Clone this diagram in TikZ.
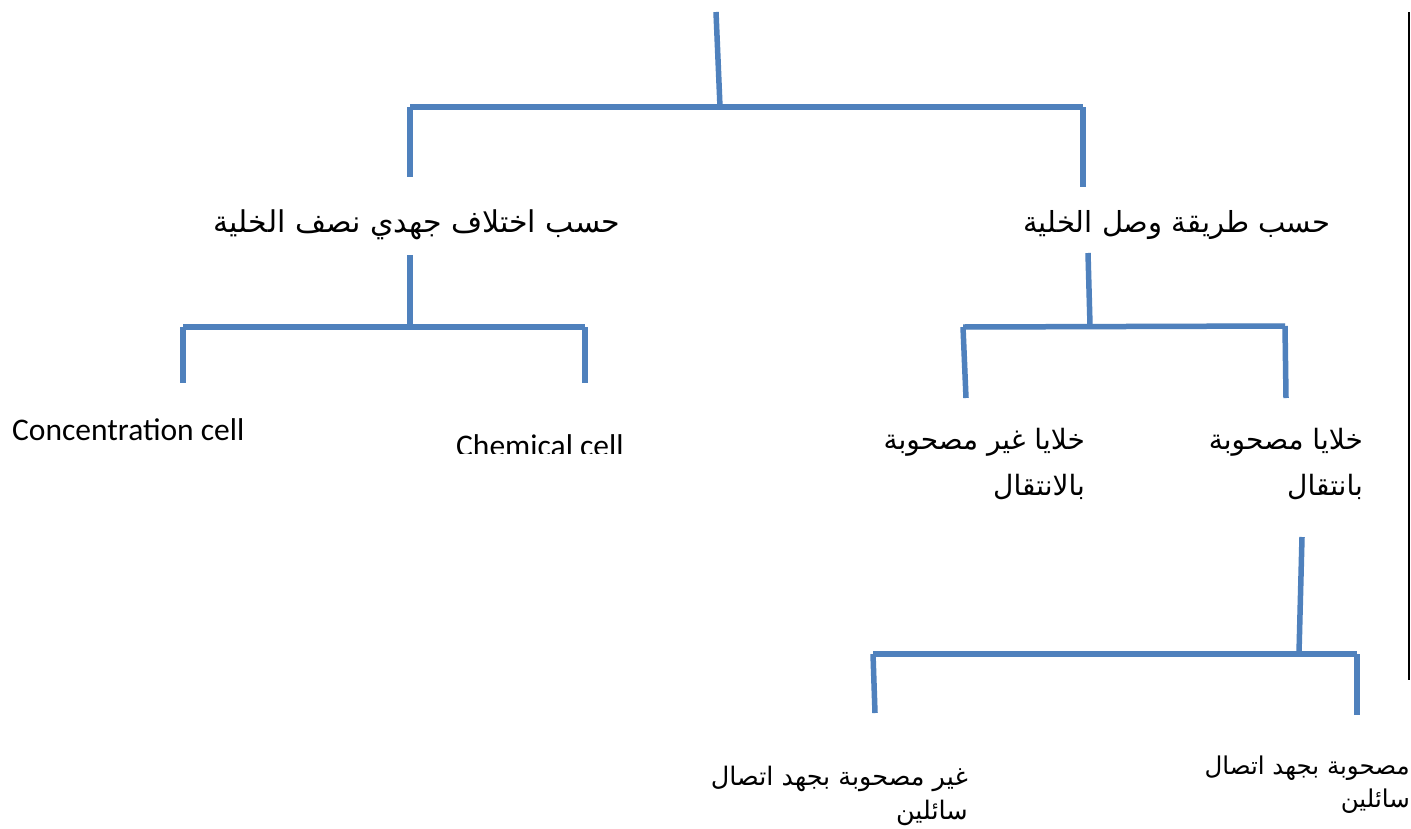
\documentclass[tikz,border=0pt]{standalone}
\usepackage{fontspec}
\TeXXeTstate=1
\newfontfamily\arabicfont[Script=Arabic]{DejaVu Sans}
\newfontfamily\engfont{Carlito}
\definecolor{lineblue}{HTML}{4F81BD}
\begin{document}
\begin{tikzpicture}[x=1pt,y=-1pt,
  br/.style={lineblue,line width=5.5pt},
  sh/.style={black!15,line width=5pt},
  ar/.style={font=\arabicfont\fontsize{#1}{#1}\selectfont,inner sep=0pt},
  eng/.style={font=\engfont\fontsize{31.5}{36}\selectfont,inner sep=0pt}]
\useasboundingbox (0,0) rectangle (1411,828);
\fill[white] (0,0) rectangle (1411,828);
% right edge line
\draw[black,line width=2pt] (1409,12) -- (1409,680);
% coordinates
\coordinate (t0) at (716,12);
\coordinate (t1) at (720,107);
\coordinate (hL) at (410,107);
\coordinate (hR) at (1083,107);
\coordinate (dL) at (410,177);
\coordinate (dR) at (1083,187);
\coordinate (a0) at (410,255);
\coordinate (a1) at (410,325);
\coordinate (aL) at (183,327);
\coordinate (aR) at (585,327);
\coordinate (aLd) at (183,383);
\coordinate (aRd) at (585,383);
\coordinate (b0) at (1088,253);
\coordinate (b1) at (1090,325);
\coordinate (bL) at (963,327);
\coordinate (bR) at (1285,326);
\coordinate (bLd) at (966,398);
\coordinate (bRd) at (1286,398);
\coordinate (c0) at (1302,537);
\coordinate (c1) at (1299,653);
\coordinate (cL) at (873,654);
\coordinate (cR) at (1357,654);
\coordinate (cLd) at (875,713);
\coordinate (cRd) at (1357,715);
% shadows
\begin{scope}[shift={(1.5,3)}]
\draw[sh] (hL) -- (hR); \draw[sh] (aL) -- (aR); \draw[sh] (bL) -- (bR); \draw[sh] (cL) -- (cR);
\end{scope}
% brackets
\draw[br] (t0) -- (t1);
\draw[br] (hL) -- (hR);
\draw[br] (hL) -- (dL);
\draw[br] (hR) -- (dR);
\draw[br] (a0) -- (a1);
\draw[br] (aL) -- (aR);
\draw[br] (aL) -- (aLd);
\draw[br] (aR) -- (aRd);
\draw[br] (b0) -- (b1);
\draw[br] (bL) -- (bR);
\draw[br] (bL) -- (bLd);
\draw[br] (bR) -- (bRd);
\draw[br] (c0) -- (c1);
\draw[br] (cL) -- (cR);
\draw[br] (cL) -- (cLd);
\draw[br] (cR) -- (cRd);
% texts
\node[ar=30,anchor=base] (big1) at (417,232) {\beginR حسب اختلاف جهدي نصف الخلية\endR};
\node[ar=29,anchor=base] (big2) at (1177,232) {\beginR حسب طريقة وصل الخلية\endR};
\node[eng,anchor=base west] (conc) at (12,440) {Concentration cell};
\begin{scope}
\clip (440,420) rectangle (640,453);
\node[eng,anchor=base west] (chem) at (456,456) {Chemical cell};
\end{scope}
\node[ar=28,anchor=base east] (n1a) at (1085,449) {\beginR خلايا غير مصحوبة\endR};
\node[ar=28,anchor=base east] (n1b) at (1085,495) {\beginR بالانتقال\endR};
\node[ar=28,anchor=base east] (n2a) at (1363,449) {\beginR خلايا مصحوبة\endR};
\node[ar=28,anchor=base east] (n2b) at (1363,495) {\beginR بانتقال\endR};
\node[ar=25.5,anchor=base east] (n3a) at (968,785) {\beginR غير مصحوبة بجهد اتصال\endR};
\node[ar=25.5,anchor=base east] (n3b) at (968,819) {\beginR سائلين\endR};
\node[ar=24.5,anchor=base east] (n4a) at (1410,774) {\beginR مصحوبة بجهد اتصال\endR};
\node[ar=24.5,anchor=base east] (n4b) at (1410,807) {\beginR سائلين\endR};
\end{tikzpicture}
\end{document}
